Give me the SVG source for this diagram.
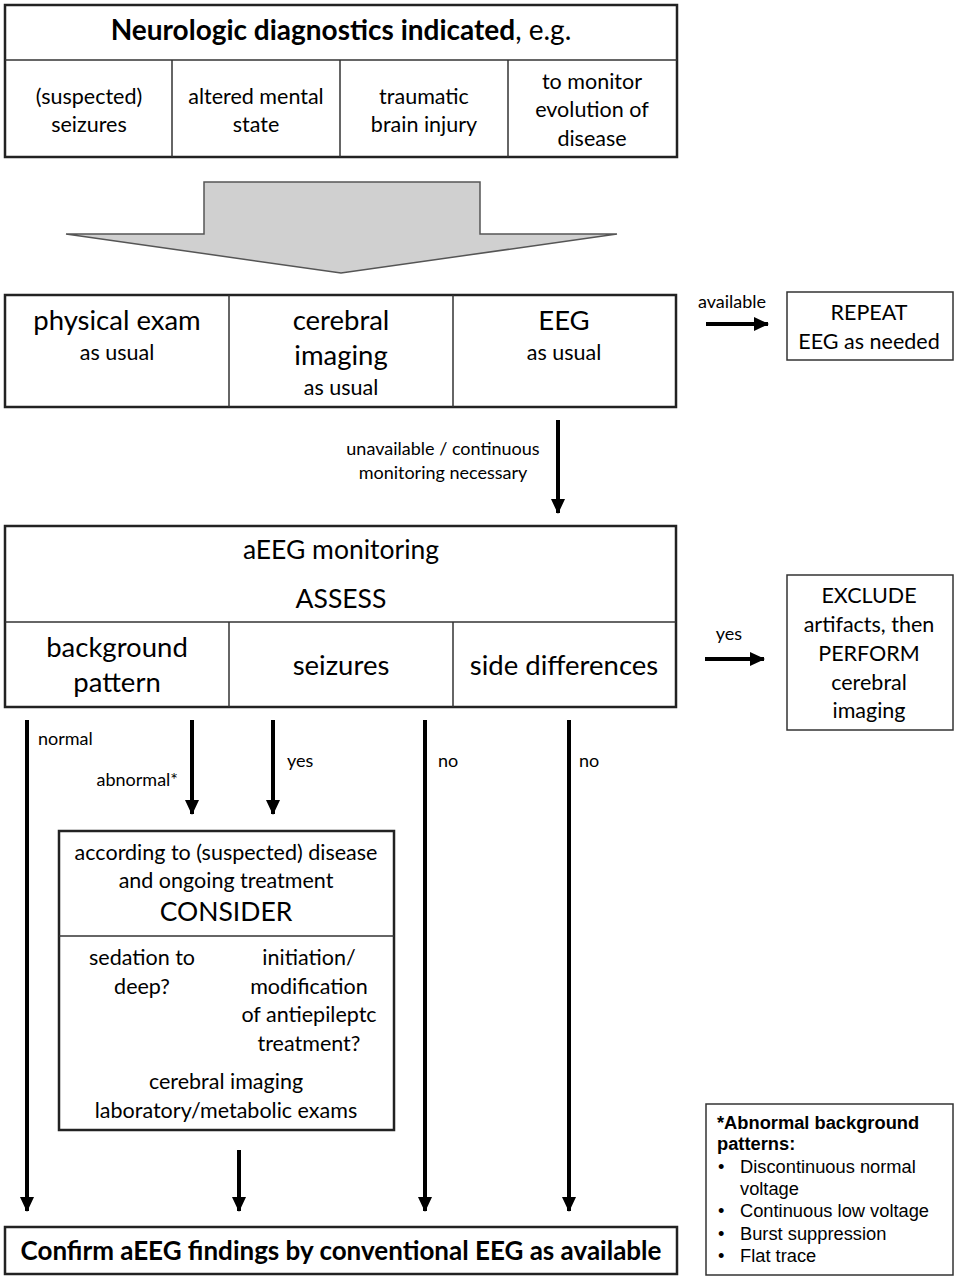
<svg xmlns="http://www.w3.org/2000/svg" width="957" height="1279" viewBox="0 0 957 1279">
<style>
text{font-family:Lato,"Open Sans","Liberation Sans",sans-serif;fill:#000;text-anchor:middle}
.box{fill:#fff;stroke:#222;stroke-width:2.5}
.thin{fill:#fff;stroke:#333;stroke-width:1.5}
.div{stroke:#333;stroke-width:1.5}
.t20{font-size:21.5px}
.t26{font-size:27.5px}
.t24{font-size:26.5px}
.lbl{font-size:18px}
.con{stroke:#000;stroke-width:4;fill:none}
.leg{font-family:"Liberation Sans",Arial,sans-serif;font-size:18.3px;text-anchor:start}
</style>
<defs>
<marker id="ah" markerUnits="userSpaceOnUse" markerWidth="16" markerHeight="16" refX="14" refY="7" orient="auto">
<path d="M0,0 L15,7 L0,14 Z" fill="#000"/>
</marker>
</defs>
<rect width="957" height="1279" fill="#fff"/>

<g id="n-indicated">
<rect class="box" x="5" y="5" width="672" height="152"/>
<line class="div" x1="5" y1="60" x2="677" y2="60"/>
<line class="div" x1="172" y1="60" x2="172" y2="157"/>
<line class="div" x1="340" y1="60" x2="340" y2="157"/>
<line class="div" x1="508" y1="60" x2="508" y2="157"/>
<text x="341" y="40" style="font-size:28px"><tspan font-weight="bold">Neurologic diagnostics indicated</tspan>, e.g.</text>
<text class="t20" x="89" y="104">(suspected)</text>
<text class="t20" x="89" y="132">seizures</text>
<text class="t20" x="256" y="104">altered mental</text>
<text class="t20" x="256" y="132">state</text>
<text class="t20" x="424" y="104">traumatic</text>
<text class="t20" x="424" y="132">brain injury</text>
<text class="t20" x="592" y="89">to monitor</text>
<text class="t20" x="592" y="117">evolution of</text>
<text class="t20" x="592" y="146">disease</text>
</g>

<g id="n-bigarrow">
<path d="M204,182 L480,182 L480,234 L617,234 L341,273 L66,234 L204,234 Z" fill="#d0d0d0" stroke="#555" stroke-width="1.5"/>
</g>

<g id="n-exam">
<rect class="box" x="5" y="295" width="671" height="112"/>
<line class="div" x1="229" y1="295" x2="229" y2="407"/>
<line class="div" x1="453" y1="295" x2="453" y2="407"/>
<text class="t26" x="117" y="330">physical exam</text>
<text class="t20" x="117" y="360">as usual</text>
<text class="t26" x="341" y="330">cerebral</text>
<text class="t26" x="341" y="365">imaging</text>
<text class="t20" x="341" y="395">as usual</text>
<text class="t26" x="564" y="330">EEG</text>
<text class="t20" x="564" y="360">as usual</text>
</g>

<g id="n-repeat">
<rect class="thin" x="787" y="292" width="166" height="68"/>
<text class="t20" x="869" y="320">REPEAT</text>
<text class="t20" x="869" y="349">EEG as needed</text>
</g>

<g id="n-aeeg">
<rect class="box" x="5" y="526" width="671" height="181"/>
<line class="div" x1="5" y1="622" x2="676" y2="622"/>
<line class="div" x1="229" y1="622" x2="229" y2="707"/>
<line class="div" x1="453" y1="622" x2="453" y2="707"/>
<text class="t24" x="341" y="559">aEEG monitoring</text>
<text class="t24" x="341" y="608">ASSESS</text>
<text class="t26" x="117" y="657">background</text>
<text class="t26" x="117" y="692">pattern</text>
<text class="t26" x="341" y="675">seizures</text>
<text class="t26" x="564" y="675">side differences</text>
</g>

<g id="n-exclude">
<rect class="thin" x="787" y="575" width="166" height="155"/>
<text class="t20" x="869" y="603">EXCLUDE</text>
<text class="t20" x="869" y="632">artifacts, then</text>
<text class="t20" x="869" y="661">PERFORM</text>
<text class="t20" x="869" y="690">cerebral</text>
<text class="t20" x="869" y="718">imaging</text>
</g>

<g id="n-consider">
<rect class="box" x="59" y="831" width="335" height="299"/>
<line class="div" x1="59" y1="936" x2="394" y2="936"/>
<text class="t20" x="226" y="860">according to (suspected) disease</text>
<text class="t20" x="226" y="888">and ongoing treatment</text>
<text class="t24" x="226" y="921">CONSIDER</text>
<text class="t20" x="142" y="965">sedation to</text>
<text class="t20" x="142" y="994">deep?</text>
<text class="t20" x="309" y="965">initiation/</text>
<text class="t20" x="309" y="994">modification</text>
<text class="t20" x="309" y="1022">of antiepileptc</text>
<text class="t20" x="309" y="1051">treatment?</text>
<text class="t20" x="226" y="1089">cerebral imaging</text>
<text class="t20" x="226" y="1118">laboratory/metabolic exams</text>
</g>

<g id="n-confirm">
<rect class="box" x="5" y="1227" width="672" height="47"/>
<text x="341" y="1260" style="font-size:26px;font-weight:bold">Confirm aEEG findings by conventional EEG as available</text>
</g>

<g id="n-legend">
<rect class="thin" x="706" y="1104" width="247" height="171"/>
<text class="leg" x="717" y="1129" font-weight="bold">*Abnormal background</text>
<text class="leg" x="717" y="1150" font-weight="bold">patterns:</text>
<text class="leg" x="718" y="1173">•</text>
<text class="leg" x="740" y="1173">Discontinuous normal</text>
<text class="leg" x="740" y="1195">voltage</text>
<text class="leg" x="718" y="1217">•</text>
<text class="leg" x="740" y="1217">Continuous low voltage</text>
<text class="leg" x="718" y="1240">•</text>
<text class="leg" x="740" y="1240">Burst suppression</text>
<text class="leg" x="718" y="1262">•</text>
<text class="leg" x="740" y="1262">Flat trace</text>
</g>

<g id="connectors">
<line class="con" x1="706" y1="324" x2="768" y2="324" marker-end="url(#ah)"/>
<text class="lbl" x="732" y="308">available</text>
<line class="con" x1="558" y1="420" x2="558" y2="513" marker-end="url(#ah)"/>
<text class="lbl" x="443" y="455">unavailable / continuous</text>
<text class="lbl" x="443" y="479">monitoring necessary</text>
<line class="con" x1="705" y1="659" x2="764" y2="659" marker-end="url(#ah)"/>
<text class="lbl" x="729" y="640">yes</text>
<line class="con" x1="27" y1="720" x2="27" y2="1211" marker-end="url(#ah)"/>
<text class="lbl" x="38" y="745" style="text-anchor:start">normal</text>
<line class="con" x1="192" y1="720" x2="192" y2="814" marker-end="url(#ah)"/>
<text class="lbl" x="178" y="786" style="text-anchor:end">abnormal*</text>
<line class="con" x1="273" y1="720" x2="273" y2="814" marker-end="url(#ah)"/>
<text class="lbl" x="287" y="767" style="text-anchor:start">yes</text>
<line class="con" x1="425" y1="720" x2="425" y2="1211" marker-end="url(#ah)"/>
<text class="lbl" x="438" y="767" style="text-anchor:start">no</text>
<line class="con" x1="569" y1="720" x2="569" y2="1211" marker-end="url(#ah)"/>
<text class="lbl" x="579" y="767" style="text-anchor:start">no</text>
<line class="con" x1="239" y1="1150" x2="239" y2="1211" marker-end="url(#ah)"/>
</g>
</svg>
